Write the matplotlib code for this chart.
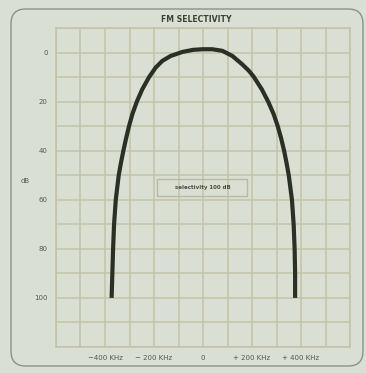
import numpy as np
import matplotlib
matplotlib.use('Agg')
import matplotlib.pyplot as plt
from matplotlib.patches import FancyBboxPatch, Rectangle

# response curve: offset in kHz, attenuation in dB
freq_khz = [-373, -370, -367, -363, -356, -344, -335, -325, -314, -302, -288, -270,
            -248, -220, -193, -166, -132, -84, -40, 0, 38, 79, 120, 160, 188,
            208, 240, 266, 288, 305, 319, 331, 341, 350, 363, 370, 374, 376, 376]
atten_db = [100, 90, 80, 70, 60, 50, 45, 40, 35, 30, 25, 20,
            15, 10, 6.1, 3.4, 1.4, -0.25, -1.1, -1.35, -1.35, -0.7, 1.4, 4.8, 7.5,
            10, 15, 20, 25, 30, 35, 40, 45, 50, 60, 70, 80, 90, 100]

x_grid = list(range(-600, 601, 100))
y_grid = list(range(-10, 121, 10))
x_labels = {-400: '\u2212400 KHz', -200: '\u2212 200 KHz', 0: '0',
            200: '+ 200 KHz', 400: '+ 400 KHz'}
y_labels = {0: '0', 20: '20', 40: '40', 60: '60', 80: '80', 100: '100'}
box_text = 'selectivity 100 dB'

bg = '#dadfd4'
grid_c = '#c2c3a6'
ink = '#2b3027'
txt = '#55584c'

fig = plt.figure(figsize=(3.66, 3.73), dpi=100, facecolor=bg)
ax = fig.add_axes([56 / 366, 1 - 347 / 373, 294 / 366, 319 / 373])
ax.set_facecolor(bg)

ax.plot(freq_khz, atten_db, color=ink, lw=3.0, solid_capstyle='butt',
        solid_joinstyle='round', zorder=3)

ax.set_xlim(-600, 600)
ax.set_ylim(120, -10)
ax.set_xticks(x_grid)
ax.set_xticklabels([x_labels.get(v, '') for v in x_grid])
ax.set_yticks(y_grid)
ax.set_yticklabels([y_labels.get(v, '') for v in y_grid])
ax.tick_params(length=0, labelsize=5, labelcolor=txt)
ax.tick_params(axis='x', pad=6)
ax.tick_params(axis='y', pad=6)
ax.grid(True, color=grid_c, lw=1.1)
ax.set_axisbelow(True)
for s in ax.spines.values():
    s.set_color(grid_c)
    s.set_linewidth(1.1)

# label box in the middle
ax.add_patch(Rectangle((-188, 51.4), 368, 7.0, fill=False, ec='#b9b9a0', lw=1.0, zorder=2))
ax.text(0, 54.9, box_text, ha='center', va='center', fontsize=4, fontweight='bold',
        color='#4a4d42', zorder=4)

fig.text(196 / 366, 1 - 19 / 373, 'FM SELECTIVITY', ha='center', va='center',
         fontsize=5.6, fontweight='bold', color='#3e4137')
fig.text(25 / 366, 1 - 181 / 373, 'dB', ha='center', va='center', fontsize=5, color=txt)

# rounded frame around the whole card
frame = FancyBboxPatch((11 / 366, 1 - 366 / 373), 352 / 366, 357 / 373,
                       boxstyle='round,pad=0,rounding_size=0.04',
                       transform=fig.transFigure, fill=False, ec='#8e9184', lw=1.0)
fig.patches.append(frame)

fig.savefig('out.png', dpi=100, facecolor=bg)
